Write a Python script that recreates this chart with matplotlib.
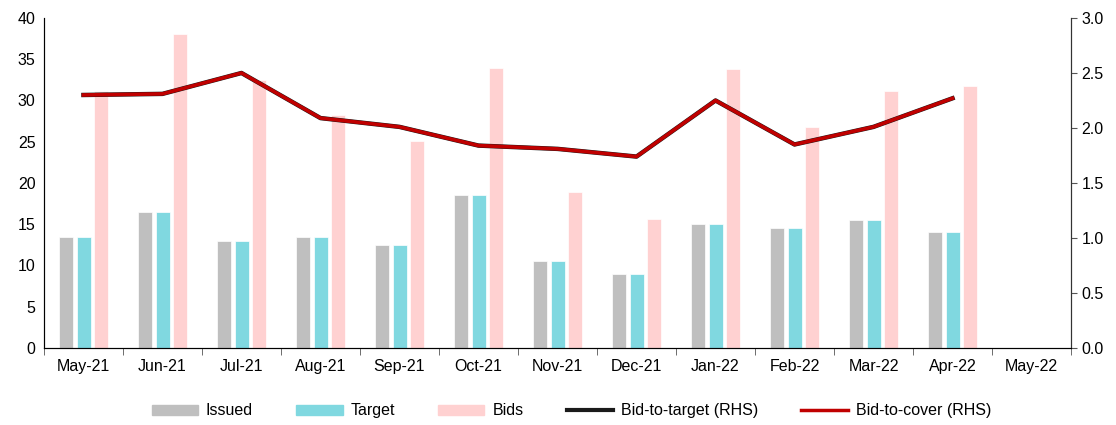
import matplotlib.pyplot as plt
import numpy as np
from matplotlib.patches import Patch
from matplotlib.lines import Line2D

plt.rcParams['font.family'] = ['Liberation Sans', 'DejaVu Sans']

months = ['May-21', 'Jun-21', 'Jul-21', 'Aug-21', 'Sep-21', 'Oct-21', 'Nov-21',
          'Dec-21', 'Jan-22', 'Feb-22', 'Mar-22', 'Apr-22', 'May-22']
issued = [13.5, 16.5, 13.0, 13.5, 12.5, 18.5, 10.5, 9.0, 15.0, 14.5, 15.5, 14.0, np.nan]
target = [13.5, 16.5, 13.0, 13.5, 12.5, 18.5, 10.5, 9.0, 15.0, 14.5, 15.5, 14.0, np.nan]
bids = [31.1, 38.1, 32.5, 28.2, 25.1, 33.9, 18.95, 15.6, 33.8, 26.75, 31.2, 31.75, np.nan]
bid_to_target = [2.30, 2.31, 2.50, 2.09, 2.01, 1.84, 1.81, 1.74, 2.25, 1.85, 2.01, 2.27, np.nan]
bid_to_cover = [2.30, 2.31, 2.50, 2.09, 2.01, 1.84, 1.81, 1.74, 2.25, 1.85, 2.01, 2.27, np.nan]

c_issued = '#BFBFBF'
c_target = '#80D8E0'
c_bids = '#FFD1D1'
c_btt = '#1a1a1a'
c_btc = '#C00000'

fig = plt.figure(figsize=(11.16, 4.25), dpi=100)
ax = fig.add_axes([0.0394, 0.1812, 0.9203, 0.7765])
x = np.arange(len(months))
w = 0.18
ax.bar(x - 0.22, issued, w, color=c_issued, edgecolor='white', linewidth=0.5)
ax.bar(x + 0.005, target, w, color=c_target, edgecolor='white', linewidth=0.5)
ax.bar(x + 0.22, bids, w, color=c_bids, edgecolor='white', linewidth=0.5)
ax.set_xlim(-0.5, len(months) - 0.5)
ax.set_ylim(0, 40)
ax.set_yticks(range(0, 41, 5))
ax.tick_params(axis='y', length=0, labelsize=11.5, pad=6)
ax.set_xticks(x)
ax.set_xticklabels(months)
ax.set_xticks(np.arange(-0.5, len(months)), minor=True)
ax.tick_params(axis='x', which='major', length=0, labelsize=11.5, pad=8)
ax.tick_params(axis='x', which='minor', length=5, color='#555555')
ax.spines['top'].set_visible(False)
for s in ['left', 'bottom', 'right']:
    ax.spines[s].set_color('#333333')

ax2 = ax.twinx()
ax2.plot(x, bid_to_target, color=c_btt, linewidth=3.2)
ax2.plot(x, bid_to_cover, color=c_btc, linewidth=2.6)
ax2.set_ylim(0, 3.0)
ax2.set_yticks(np.arange(0, 3.01, 0.5))
ax2.set_yticklabels(['%.1f' % v for v in np.arange(0, 3.01, 0.5)])
ax2.tick_params(axis='y', length=4, labelsize=11.5, color='#555555')
ax2.spines['top'].set_visible(False)
ax2.spines['right'].set_color('#333333')

handles = [Patch(color=c_issued), Patch(color=c_target), Patch(color=c_bids),
           Line2D([], [], color=c_btt, linewidth=3), Line2D([], [], color=c_btc, linewidth=2.5)]
labels = ['Issued', 'Target', 'Bids', 'Bid-to-target (RHS)', 'Bid-to-cover (RHS)']
fig.legend(handles, labels, loc='center', bbox_to_anchor=(0.512, 0.033), ncol=5,
           frameon=False, fontsize=11.5, handlelength=2.9, handleheight=0.6,
           columnspacing=2.7, handletextpad=0.5)

fig.savefig('out.png', dpi=100)
